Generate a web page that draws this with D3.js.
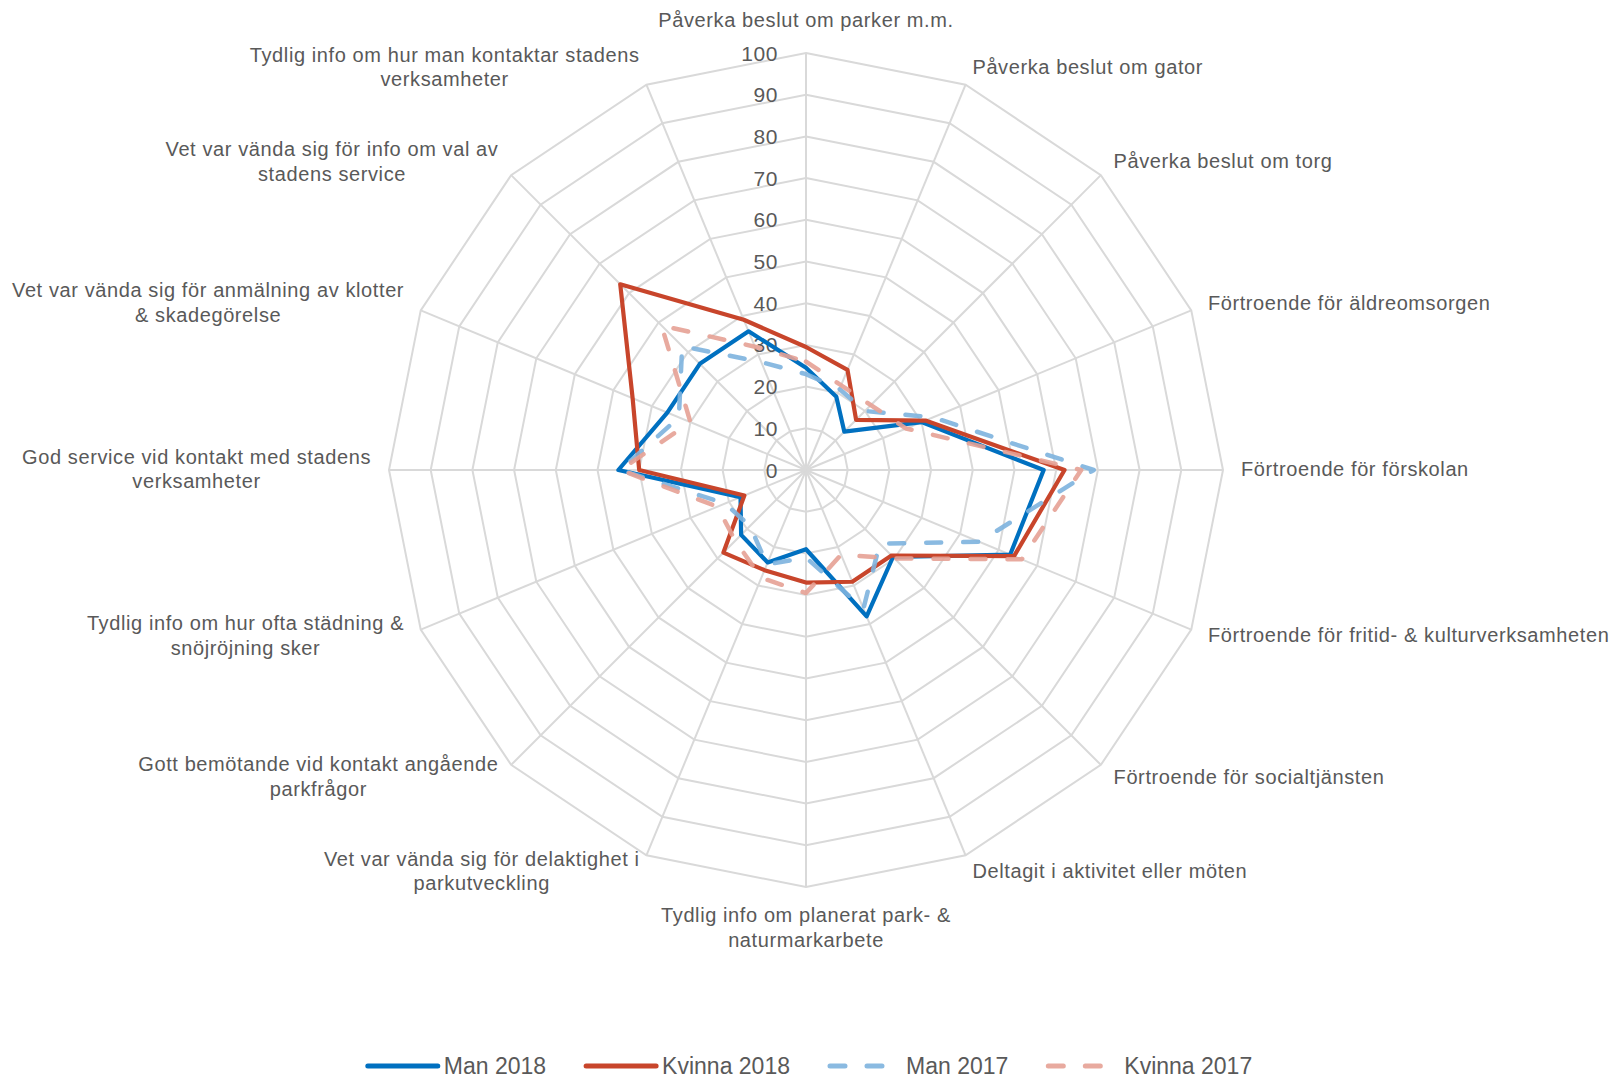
<!DOCTYPE html>
<html>
<head>
<meta charset="utf-8">
<script src="https://cdn.jsdelivr.net/npm/d3@7"></script>
<style>
  body { margin: 0; background: #fff; }
  text { font-family: "Liberation Sans", Arial, sans-serif; fill: #595959; }
</style>
</head>
<body>
<div id="radar"></div>
<script>
// Categories, clockwise from the top ("|" marks a line break)
var categories = [
  "Påverka beslut om parker m.m.",
  "Påverka beslut om gator",
  "Påverka beslut om torg",
  "Förtroende för äldreomsorgen",
  "Förtroende för förskolan",
  "Förtroende för fritid- & kulturverksamheten",
  "Förtroende för socialtjänsten",
  "Deltagit i aktivitet eller möten",
  "Tydlig info om planerat park- &|naturmarkarbete",
  "Vet var vända sig för delaktighet i|parkutveckling",
  "Gott bemötande vid kontakt angående|parkfrågor",
  "Tydlig info om hur ofta städning &|snöjröjning sker",
  "God service vid kontakt med stadens|verksamheter",
  "Vet var vända sig för anmälning av klotter|& skadegörelse",
  "Vet var vända sig för info om val av|stadens service",
  "Tydlig info om hur man kontaktar stadens|verksamheter"
];

// Series values (same order as categories)
var man2018 = [24.5, 19, 13, 30, 57, 53, 29.5, 38, 19, 24, 22, 17, 45, 36, 36, 36];
var kvinna2018 = [29.5, 26, 17, 31, 62, 54, 29, 29, 27, 26, 28, 16, 40, 45, 63, 39];
var man2017 = [23, 21, 20, 33, 69, 45, 25, 36, 21, 24.5, 19, 21, 44.5, 33, 42, 28];
var kvinna2017 = [26, 22, 22, 26, 66, 56, 30, 22, 29.5, 28, 24, 23, 44.5, 30, 49, 32];

var seriesNames = ["Man 2018", "Kvinna 2018", "Man 2017", "Kvinna 2017"];
var ticks = [0, 10, 20, 30, 40, 50, 60, 70, 80, 90, 100];

// Series styles
var seriesStyles = [
  { color: "#0070c0", dash: null, opacity: 1 },
  { color: "#c8452b", dash: null, opacity: 1 },
  { color: "#7db2de", dash: "15,22", opacity: 0.9 },
  { color: "#e6a195", dash: "15,22", opacity: 0.9 }
];

var svgWidth = 1613;
var svgHeight = 1081;
var cx = 806, cy = 470, radius = 417;
var lineHeight = 24.7;

var svg = d3.select("#radar")
  .append("svg")
  .attr("width", svgWidth)
  .attr("height", svgHeight);

var chartGroup = svg.append("g")
  .attr("transform", `translate(${cx}, ${cy})`);

var rScale = d3.scaleLinear().domain([0, 100]).range([0, radius]);
var angle = i => i * 2 * Math.PI / categories.length;

var radarLine = d3.lineRadial()
  .angle((d, i) => angle(i))
  .radius(d => rScale(d))
  .curve(d3.curveLinearClosed);

// Grid polygons
chartGroup.selectAll(".grid")
  .data(ticks.filter(t => t > 0))
  .enter()
  .append("path")
  .attr("d", t => radarLine(categories.map(() => t)))
  .attr("fill", "none")
  .attr("stroke", "#d9d9d9")
  .attr("stroke-width", 2);

// Spokes
chartGroup.selectAll(".spoke")
  .data(categories)
  .enter()
  .append("line")
  .attr("x1", 0).attr("y1", 0)
  .attr("x2", (d, i) => rScale(100) * Math.sin(angle(i)))
  .attr("y2", (d, i) => -rScale(100) * Math.cos(angle(i)))
  .attr("stroke", "#d9d9d9")
  .attr("stroke-width", 2);

// Tick labels
chartGroup.selectAll(".tick")
  .data(ticks)
  .enter()
  .append("text")
  .attr("x", -28)
  .attr("y", t => -rScale(t))
  .attr("dy", "0.36em")
  .attr("text-anchor", "end")
  .style("font-size", "21px")
  .style("letter-spacing", "0.6px")
  .text(t => t);

// Category labels
var labelGroup = chartGroup.append("g");
categories.forEach(function(label, i) {
  var a = angle(i);
  var s = Math.sin(a), c = Math.cos(a);
  var ax = (radius + 18) * s;
  var ay = -(radius + 18) * c;
  var lines = label.split("|");
  var n = lines.length;
  var t = labelGroup.append("text")
    .style("font-size", "20px")
    .style("letter-spacing", "0.6px");
  var spans = lines.map(l => t.append("tspan").text(l));
  var widths = spans.map(sp => sp.node().getComputedTextLength());
  var maxW = d3.max(widths);
  var firstY;
  if (Math.abs(s) < 0.01) {
    // top or bottom
    firstY = c > 0 ? ay - lineHeight / 2 - 3 - (n - 1) * lineHeight : ay + lineHeight / 2 - 2;
  } else {
    firstY = ay - (n - 1) * lineHeight / 2 - 1;
  }
  spans.forEach(function(sp, k) {
    var x;
    if (Math.abs(s) < 0.01) { x = ax; sp.attr("text-anchor", "middle"); }
    else if (s > 0) { x = ax; sp.attr("text-anchor", "start"); }
    else { x = ax - maxW / 2; sp.attr("text-anchor", "middle"); }
    sp.attr("x", x).attr("y", firstY + k * lineHeight).attr("dy", "0.35em");
  });
});

// Series
var allSeries = [man2018, kvinna2018, man2017, kvinna2017];
chartGroup.selectAll(".series")
  .data(allSeries)
  .enter()
  .append("path")
  .attr("d", d => radarLine(d))
  .attr("fill", "none")
  .attr("stroke", (d, i) => seriesStyles[i].color)
  .attr("stroke-opacity", (d, i) => seriesStyles[i].opacity)
  .attr("stroke-width", (d, i) => seriesStyles[i].dash ? 4.5 : 4.2)
  .attr("stroke-dasharray", (d, i) => seriesStyles[i].dash)
  .attr("stroke-linecap", (d, i) => seriesStyles[i].dash ? "round" : "butt")
  .attr("stroke-linejoin", "round");

// Legend
var legendGroup = svg.append("g");
var legendY = 1066;
var sampleLen = 70, textGap = 6, itemGap = 40;
var items = seriesNames.map(function(name, i) {
  var g = legendGroup.append("g");
  g.append("line")
    .attr("x1", 0).attr("x2", sampleLen)
    .attr("y1", legendY).attr("y2", legendY)
    .attr("stroke", seriesStyles[i].color)
    .attr("stroke-opacity", seriesStyles[i].opacity)
    .attr("stroke-width", 5)
    .attr("stroke-dasharray", seriesStyles[i].dash)
    .attr("stroke-linecap", "round");
  var txt = g.append("text")
    .attr("x", sampleLen + textGap)
    .attr("y", legendY)
    .attr("dy", "0.35em")
    .style("font-size", "23px")
    .text(name);
  return { g: g, w: sampleLen + textGap + txt.node().getComputedTextLength() };
});
var totalW = d3.sum(items, d => d.w) + itemGap * (items.length - 1);
var xPos = 810 - totalW / 2;
items.forEach(function(it) {
  it.g.attr("transform", `translate(${xPos}, 0)`);
  xPos += it.w + itemGap;
});
</script>
</body>
</html>
